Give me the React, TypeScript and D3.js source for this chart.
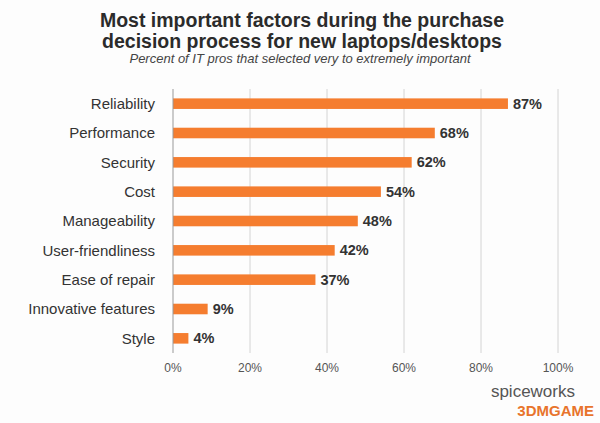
import React from "react";
import * as d3 from "d3";

const categories = ["Reliability", "Performance", "Security", "Cost", "Manageability", "User-friendliness", "Ease of repair", "Innovative features", "Style"];
const values = [87, 68, 62, 54, 48, 42, 37, 9, 4];
const ticks = [0, 20, 40, 60, 80, 100];

export default function App() {
  const W = 600, H = 423;
  const x = d3.scaleLinear().domain([0, 100]).range([173, 558]);
  const y = d3.scaleBand<string>().domain(categories).range([89, 353]).paddingInner(0.64).paddingOuter(0.32);
  const font = "Liberation Sans, Arial, sans-serif";
  return (
    <svg width={W} height={H} style={{ position: "absolute", left: 0, top: 0 }} fontFamily={font}>
      <rect width={W} height={H} fill="#fdfdfd" />
      <text x={302} y={27} textAnchor="middle" fontSize={19.5} fontWeight="bold" fill="#2b2b2b">Most important factors during the purchase</text>
      <text x={302} y={48} textAnchor="middle" fontSize={19.5} fontWeight="bold" fill="#2b2b2b">decision process for new laptops/desktops</text>
      <text x={300} y={63} textAnchor="middle" fontSize={13} fontStyle="italic" fill="#444">Percent of IT pros that selected very to extremely important</text>
      {ticks.slice(1).map(t => (
        <line key={t} x1={x(t)} x2={x(t)} y1={89} y2={353} stroke="#d4d4d4" strokeWidth={1} />
      ))}
      {categories.map((c, i) => (
        <g key={c}>
          <rect x={x(0)} y={y(c)!} width={x(values[i]) - x(0)} height={y.bandwidth()} fill="#f57d2f" />
          <text x={155} y={y(c)! + y.bandwidth() / 2} dy="0.35em" textAnchor="end" fontSize={15} fill="#333">{c}</text>
          <text x={x(values[i]) + 5} y={y(c)! + y.bandwidth() / 2} dy="0.35em" fontSize={14.5} fontWeight="bold" fill="#333">{values[i]}%</text>
        </g>
      ))}
      <line x1={x(0)} x2={x(0)} y1={89} y2={353} stroke="#999" strokeWidth={1} />
      {ticks.map(t => (
        <text key={t} x={x(t)} y={372} textAnchor="middle" fontSize={12} fill="#555">{t}%</text>
      ))}
      <text x={575} y={397} textAnchor="end" fontSize={17} fill="#555">spiceworks</text>
      <text x={594} y={416} textAnchor="end" fontSize={15} fontWeight="bold" fill="#e8742c">3DMGAME</text>
    </svg>
  );
}
